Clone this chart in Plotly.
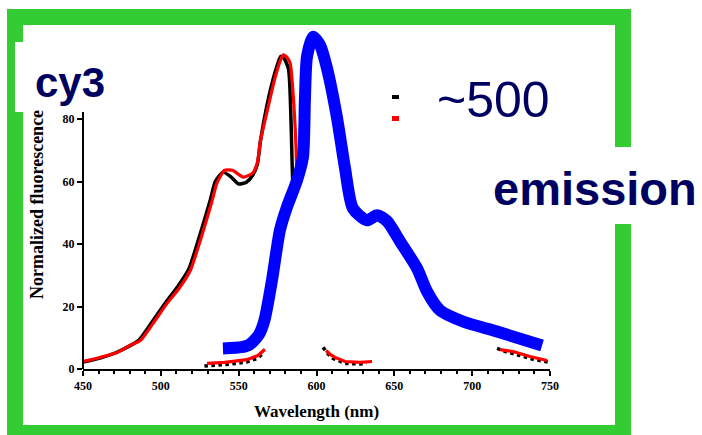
import plotly.graph_objects as go

# ---------------- data ----------------
# main absorption band, red and black traces
abs_red_wl = [450, 461, 472, 480, 487, 495, 504, 512, 519, 524, 528, 533, 536, 541, 546,
              553, 559, 562, 564, 569, 573, 576.5, 578.5, 580.5, 583, 585, 586.8, 587.5]
abs_red_val = [2.4, 3.7, 5.3, 7.5, 9.2, 14.6, 21, 26, 31.6, 39, 45.4, 54, 59.5, 63.6, 63.6,
               61.4, 62.7, 66, 73, 84, 92.5, 98.3, 100.5, 100, 98, 87.7, 71.6, 58.8]
abs_black_wl = [450, 461, 471, 480, 486, 494, 503, 511, 518, 523, 527, 532, 535, 540, 545,
                550, 555, 559, 562, 564, 568, 572, 575, 577, 579, 582, 583.6, 584.3, 584.9]
abs_black_val = [2.2, 3.5, 5.2, 7.4, 9.3, 14.8, 21.2, 26.5, 32, 39.5, 46, 54.5, 60, 63, 61.5,
                 59.2, 59.8, 62, 65.5, 73, 84, 92.5, 97.5, 100, 99.5, 96, 80, 66.5, 57]

# low-level fragments of the second spectrum (red / black)
frag_red_wl = [529.7, 541, 549, 555.3, 562.4, 566.9, None,
               606.1, 609, 611.9, 618.3, 628, 635.7, None,
               718, 726.2, 737.1, 748.1]
frag_red_val = [1.8, 2.1, 2.6, 3.0, 4.3, 6.3, None,
                5.9, 4.6, 3.7, 2.4, 2.1, 2.4, None,
                6.2, 5.6, 4.0, 2.7]
frag_black_wl = [528, 535, 545, 555, 562, 566, None,
                 604.2, 607.5, 610.6, 618.3, 628, 632, None,
                 716, 722, 730, 740, 749]
frag_black_val = [1.0, 1.2, 1.6, 2.2, 3.4, 5.2, None,
                  6.9, 4.8, 3.4, 1.8, 1.6, 1.8, None,
                  6.6, 5.5, 4.4, 3.0, 2.2]

# emission curve (blue)
em_wl = [539.9, 552, 557, 563, 566.5, 571.4, 576.5, 581.0, 587.5, 591.3, 592.6, 593.9,
         597.7, 602.2, 606.7, 613.2, 618.3, 623.4, 632.4, 638.9, 645.3, 653.6, 664.6,
         671.0, 679.3, 694.1, 716.0, 744.9]
em_val = [6.6, 7.0, 7.8, 11, 15.5, 28.4, 44.4, 51.8, 60.4, 67.8, 87.0, 99.9,
          106.3, 103.7, 96.3, 80.3, 64.3, 51.4, 47.6, 49.2, 47.3, 40.9, 32.2,
          24.8, 18.8, 15.2, 12.0, 7.5]

x_ticks = [450, 500, 550, 600, 650, 700, 750]
y_ticks = [0, 20, 40, 60, 80]

# ---------------- layout helpers (pixel -> paper) ----------------
W, H = 702, 435
L, R, T, B = 83, 550, 19, 369


def X(px):
    return (px - L) / (R - L)


def Y(py):
    return (B - py) / (B - T)


NAVY = "#000060"
GREEN = "#33CC33"

fig = go.Figure()
fig.add_trace(go.Scatter(x=abs_black_wl, y=abs_black_val, mode="lines",
                         line=dict(color="black", width=3.5, shape="spline", smoothing=0.6),
                         hoverinfo="skip"))
fig.add_trace(go.Scatter(x=frag_black_wl, y=frag_black_val, mode="lines",
                         line=dict(color="black", width=3.5, dash="dot"),
                         connectgaps=False, hoverinfo="skip"))
fig.add_trace(go.Scatter(x=abs_red_wl, y=abs_red_val, mode="lines",
                         line=dict(color="#FF0000", width=3.2, shape="spline", smoothing=0.6),
                         hoverinfo="skip"))
fig.add_trace(go.Scatter(x=frag_red_wl, y=frag_red_val, mode="lines",
                         line=dict(color="#FF0000", width=3.2),
                         connectgaps=False, hoverinfo="skip"))
fig.add_trace(go.Scatter(x=em_wl, y=em_val, mode="lines",
                         line=dict(color="#0000FF", width=12, shape="spline", smoothing=0.7),
                         hoverinfo="skip"))

shapes = [
    # green frame
    dict(type="rect", xref="paper", yref="paper", x0=X(7), x1=X(631), y0=Y(435), y1=Y(9),
         fillcolor=GREEN, line=dict(width=0), layer="below"),
    dict(type="rect", xref="paper", yref="paper", x0=X(23), x1=X(615), y0=Y(425), y1=Y(25),
         fillcolor="white", line=dict(width=0), layer="below"),
    # y axis line
    dict(type="line", xref="paper", yref="y", x0=0, x1=0, y0=0, y1=100,
         line=dict(color="black", width=2), layer="above"),
    # white boxes behind the slide texts
    dict(type="rect", xref="paper", yref="paper", x0=X(15), x1=X(140), y0=Y(112), y1=Y(42),
         fillcolor="white", line=dict(width=0), layer="above"),
    dict(type="rect", xref="paper", yref="paper", x0=X(490), x1=X(702), y0=Y(224), y1=Y(147),
         fillcolor="white", line=dict(width=0), layer="above"),
    # legend remnants
    dict(type="rect", xref="paper", yref="paper", x0=X(392), x1=X(399), y0=Y(99), y1=Y(95),
         fillcolor="black", line=dict(width=0), layer="above"),
    dict(type="rect", xref="paper", yref="paper", x0=X(392), x1=X(399), y0=Y(121), y1=Y(116),
         fillcolor="#FF0000", line=dict(width=0), layer="above"),
]

annotations = [
    dict(text="cy3", xref="paper", yref="paper", x=X(33), y=Y(82), xanchor="left", yanchor="middle",
         showarrow=False, font=dict(family="Liberation Sans", size=42, color=NAVY, weight="bold")),
    dict(text="~500", xref="paper", yref="paper", x=X(435), y=Y(100), xanchor="left", yanchor="middle",
         showarrow=False, font=dict(family="Liberation Sans", size=50, color=NAVY)),
    dict(text="emission", xref="paper", yref="paper", x=X(491), y=Y(188), xanchor="left", yanchor="middle",
         showarrow=False, font=dict(family="Liberation Sans", size=47, color=NAVY, weight="bold")),
    dict(text="Wavelength (nm)", xref="paper", yref="paper", x=X(316), y=Y(411), xanchor="center",
         yanchor="middle", showarrow=False,
         font=dict(family="Liberation Serif", size=17, color="black", weight="bold")),
    dict(text="Normalized fluorescence", xref="paper", yref="paper", x=X(37), y=Y(205), xanchor="center",
         yanchor="middle", textangle=-90, showarrow=False,
         font=dict(family="Liberation Serif", size=18, color="black", weight="bold")),
]

fig.update_layout(
    width=W, height=H,
    margin=dict(l=L, r=W - R, t=T, b=H - B, pad=0),
    paper_bgcolor="white", plot_bgcolor="rgba(0,0,0,0)",
    showlegend=False,
    shapes=shapes, annotations=annotations,
    xaxis=dict(range=[450, 750], tickvals=x_ticks, ticktext=[str(v) for v in x_ticks],
               showgrid=False, zeroline=False, showline=True, linecolor="black", linewidth=2,
               ticks="outside", ticklen=5, tickwidth=2, tickcolor="black",
               minor=dict(dtick=10, tick0=450, ticks="outside", ticklen=2.5, tickwidth=2, tickcolor="black"),
               tickfont=dict(family="Liberation Serif", size=12, color="black", weight="bold"),
               automargin=False, fixedrange=True),
    yaxis=dict(range=[0, 112], tickvals=y_ticks, ticktext=[str(v) for v in y_ticks],
               showgrid=False, zeroline=False, showline=False,
               ticks="outside", ticklen=5, tickwidth=2, tickcolor="black",
               tickfont=dict(family="Liberation Serif", size=12, color="black", weight="bold"),
               automargin=False, fixedrange=True),
)

fig.write_html("out.html", config={"displayModeBar": False})
